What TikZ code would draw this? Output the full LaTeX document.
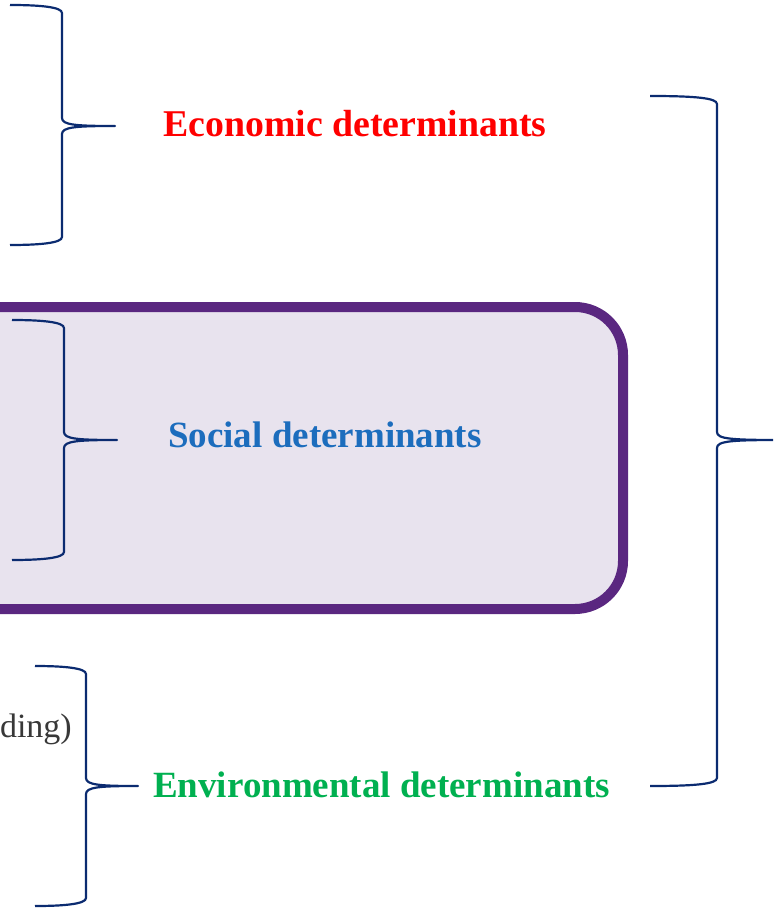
\documentclass[tikz,border=0pt]{standalone}
\usepackage{fontspec}
\setmainfont{Liberation Serif}
\usetikzlibrary{positioning}
\definecolor{bracenavy}{HTML}{0B2B70}
\definecolor{boxpurple}{HTML}{5A2780}
\definecolor{boxfill}{HTML}{E8E3EE}
\definecolor{econred}{HTML}{FF0000}
\definecolor{socialblue}{HTML}{1C6DBD}
\definecolor{envgreen}{HTML}{00B050}

% curly brace: arm x, top y, spine x, tip x, tip y, bottom y
\newcommand{\curlybrace}[6]{%
  \draw[brace line] (#1,#2) .. controls ({#3-22},#2) and (#3,{#2+2}) .. (#3,{#2+8})
    -- (#3,{#5-8}) .. controls (#3,{#5-1}) and ({#3+14},#5) .. (#4,#5)
    .. controls ({#3+14},#5) and (#3,{#5+1}) .. (#3,{#5+8})
    -- (#3,{#6-8}) .. controls (#3,{#6-2}) and ({#3-22},#6) .. (#1,#6);}

\begin{document}
\begin{tikzpicture}[x=1pt,y=-1pt,
  brace line/.style={draw=bracenavy,line width=2.2pt,line join=round},
  label/.style={font=\bfseries\fontsize{37}{44}\selectfont,inner sep=0pt,anchor=base west}]
    \useasboundingbox (0,0) rectangle (773,909);
    \clip (0,0) rectangle (773,909);

    % social box
    \draw[boxpurple,fill=boxfill,line width=10pt,rounded corners=48pt] (-80,307) rectangle (623,609);

    \curlybrace{10}{5}{62}{115}{126}{245}
    \curlybrace{12}{320}{64}{117}{440}{560}
    \curlybrace{35}{666}{86}{138}{786}{906}
    \curlybrace{650}{96}{717}{782}{440}{786}

    \node[label,text=econred,font=\bfseries\fontsize{37.8}{44}\selectfont] (econ) at (163,137) {Economic determinants};
    \node[label,text=socialblue] (social) at (168,447) {Social determinants};
    \node[label,text=envgreen] (env) at (153,797) {Environmental determinants};
    \node[font=\fontsize{34}{40}\selectfont,text=black!78,inner sep=0pt,anchor=base east] (housing) at (72,737) {ding)};
\end{tikzpicture}
\end{document}
